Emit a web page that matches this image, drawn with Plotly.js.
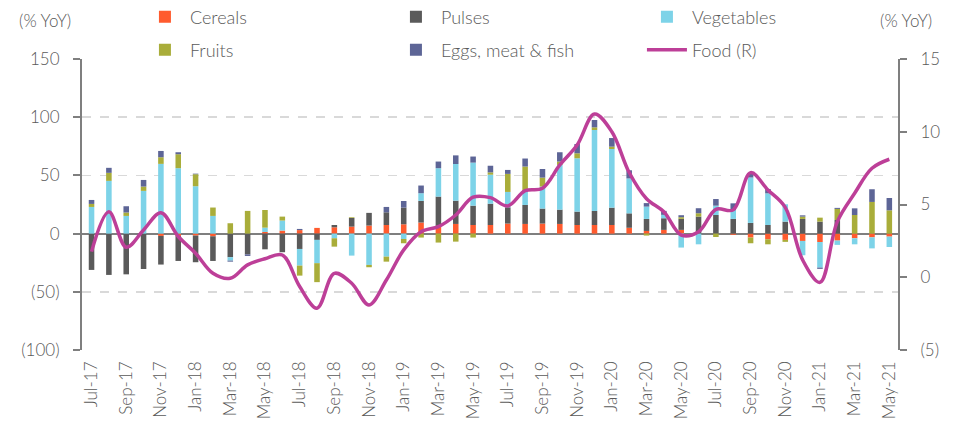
<!DOCTYPE html>
<html>
<head>
<meta charset="utf-8">
<script src="https://cdn.plot.ly/plotly-3.0.1.min.js"></script>
<style>
html,body{margin:0;padding:0;background:#fff;}
#chart{width:960px;height:435px;}
</style>
</head>
<body>
<div id="chart"></div>
<script>
// ---- data ----
var months = ['Jul-17','Aug-17','Sep-17','Oct-17','Nov-17','Dec-17','Jan-18','Feb-18','Mar-18','Apr-18','May-18','Jun-18',
  'Jul-18','Aug-18','Sep-18','Oct-18','Nov-18','Dec-18','Jan-19','Feb-19','Mar-19','Apr-19','May-19','Jun-19',
  'Jul-19','Aug-19','Sep-19','Oct-19','Nov-19','Dec-19','Jan-20','Feb-20','Mar-20','Apr-20','May-20','Jun-20',
  'Jul-20','Aug-20','Sep-20','Oct-20','Nov-20','Dec-20','Jan-21','Feb-21','Mar-21','Apr-21','May-21'];
var tickLabels = ['Jul-17','Sep-17','Nov-17','Jan-18','Mar-18','May-18','Jul-18','Sep-18','Nov-18','Jan-19','Mar-19','May-19',
  'Jul-19','Sep-19','Nov-19','Jan-20','Mar-20','May-20','Jul-20','Sep-20','Nov-20','Jan-21','Mar-21','May-21'];

var cereals = [0,0,0,0,-2,-2,-1.7,-2.3,0,0,1.4,2.6,
  3,4.9,5.4,6,6.9,7.4,8,9.5,6.6,8.3,7.4,7.4,
  8.6,8.3,8.6,8.3,7.4,7.4,7.4,5,2.3,3.2,3.2,0,
  0,-1,-3.4,-4.9,-5.4,-6.3,-7.2,-6,-4,-3.2,-2.6];
var pulses = [-31.2,-35.5,-35,-30.4,-24.6,-21.5,-22.9,-21.2,-20.3,-17.8,-13.5,-16,
  -13.2,-5.4,2,7.4,10.9,10.9,14.3,18.6,25.2,20,16.6,18.3,
  14,16.3,12.9,12.3,11.5,12,14.9,12.4,10.3,10,9.5,14.6,
  16,12.6,9.2,7.4,10.3,12.6,10.3,11.7,0,0,0];
var vegetables = [22.9,45.3,15.2,36.7,59.9,56.2,40.7,15.2,-2.9,0,3.7,8.6,
  -14.3,-20,-4,-18.9,-26.9,-19.8,-4.6,6.6,24.4,31.5,37,24.9,
  13.2,12,18.9,38.4,45.8,69.6,50.4,30,10.6,2.9,-12,-9.2,
  8,7.7,39,27.2,14.9,-12.3,-22,-3.7,-5.2,-9.5,-8.9];
var fruits = [2.6,6.9,2.9,3.7,5.7,12,10.3,7.2,8.9,19.5,15.2,3.4,
  -8.6,-16.3,-7.2,0.6,-2,-4.3,-3.7,-3.4,-7.7,-6.9,-3.4,2,
  15.5,21,7.7,2.9,4.3,2.3,2,0,-1.7,0,1.4,2.9,
  -2.9,0,-4.9,-4.3,-1.7,2,3.4,9.5,16,27.2,20];
var eggsMeatFish = [3.4,4.3,5.4,5.7,5.4,1.7,0.5,0,-0.9,-1.4,0,0,
  1,0,0,0,0,4.6,5.7,6.6,5.7,7.4,5.2,5.7,
  3.4,6.9,7.4,8,8,6.3,7.4,7,3,3.4,1.7,4.3,
  5.7,5.7,3.7,3.7,0,1.1,-1.1,0.9,5.7,10.9,10.6];
var food = [1.76,4.5,2.06,3.25,4.44,2.8,1.65,0.27,-0.07,0.85,1.27,1.53,
  -0.64,-2.13,0.27,-0.41,-1.9,-0.19,1.88,3.13,3.48,4.28,5.5,5.47,
  4.9,5.95,6.12,7.72,9.09,11.22,10.0,7.2,5.4,4.5,2.9,3.13,
  4.67,4.63,7.19,6.0,4.8,1.19,-0.35,3.82,5.77,7.49,8.11];

var leftTicks = [-100,-50,0,50,100,150];
var leftTickText = ['(100)','(50)','0','50','100','150'];
var rightTicks = [-5,0,5,10,15];
var rightTickText = ['(5)','0','5','10','15'];

// ---- chart ----
var FONT = 'Lato, "Open Sans", sans-serif';
var TXT = '#595959';
var AX = '#7f7f7f';
var W = 300;

function barTrace(name, vals, color, lg) {
  return {type:'bar', name:name, x:months, y:vals, marker:{color:color, line:{width:0}},
          xaxis:'x', yaxis:'y', legend:lg, hoverinfo:'x+y+name'};
}
var traces = [
  barTrace('Cereals', cereals, '#FF5B2E', 'legend'),
  barTrace('Pulses', pulses, '#5A5A5A', 'legend'),
  barTrace('Vegetables', vegetables, '#7DD3E8', 'legend'),
  barTrace('Fruits', fruits, '#A9AD3A', 'legend2'),
  barTrace('Eggs, meat & fish', eggsMeatFish, '#5D6596', 'legend2'),
  {type:'scatter', mode:'lines', name:'Food (R)', x:months, y:food, xaxis:'x', yaxis:'y2', legend:'legend2',
   line:{color:'#BD3F98', width:3.5, shape:'spline', smoothing:1}}
];

var boundaryTicks = [];
for (var i = 0; i < months.length; i += 2) boundaryTicks.push(i - 0.5);

var legendBase = {orientation:'h', x:0.071, xanchor:'left', yanchor:'middle',
          entrywidth:196, entrywidthmode:'pixels', font:{size:18, color:TXT, weight:W},
          traceorder:'normal', itemwidth:40, bgcolor:'rgba(0,0,0,0)'};
var legend1 = Object.assign({}, legendBase, {y:1.144});
var legend2 = Object.assign({}, legendBase, {y:1.031});

var layout = {
  width:960, height:435,
  margin:{l:82, r:62, t:59, b:85, autoexpand:false},
  paper_bgcolor:'#fff', plot_bgcolor:'#fff',
  font:{family:FONT, color:TXT, size:15, weight:W},
  barmode:'relative', bargap:0.68,
  showlegend:true,
  legend:legend1,
  legend2:legend2,
  xaxis:{type:'category', categoryorder:'array', categoryarray:months,
         range:[-0.55, 46.5], tickmode:'array', tickvals:tickLabels, ticktext:tickLabels,
         tickangle:-90, ticks:'', showline:false, showgrid:false, zeroline:false,
         tickfont:{size:17, color:TXT, weight:W}, ticklabelstandoff:7},
  xaxis2:{type:'linear', overlaying:'x', anchor:'free', position:0.4, range:[-0.55, 46.5],
          tickmode:'array', tickvals:boundaryTicks, ticks:'outside', ticklen:6, tickwidth:2,
          tickcolor:AX, showticklabels:false, showgrid:false, zeroline:false, showline:false},
  yaxis:{range:[-100,150], tickmode:'array', tickvals:leftTicks, ticktext:leftTickText,
         showline:true, linecolor:AX, linewidth:2, ticks:'outside', ticklen:7, tickwidth:2, tickcolor:AX,
         showgrid:true, gridcolor:'#D9D9D9', griddash:'dash', gridwidth:1.5,
         zeroline:true, zerolinecolor:AX, zerolinewidth:2,
         tickfont:{size:17, color:TXT, weight:W}, ticklabelstandoff:10},
  yaxis2:{range:[-5,15], overlaying:'y', side:'right', anchor:'x', tickmode:'array',
          tickvals:rightTicks, ticktext:rightTickText,
          showline:true, linecolor:AX, linewidth:2, ticks:'outside', ticklen:7, tickwidth:2, tickcolor:AX,
          showgrid:false, zeroline:false, tickfont:{size:17, color:TXT, weight:W}, ticklabelstandoff:10},
  annotations:[
    {text:'(% YoY)', xref:'paper', yref:'paper', x:-0.045, y:1.134, xanchor:'center', yanchor:'middle',
     showarrow:false, font:{size:17, color:TXT, weight:W}},
    {text:'(% YoY)', xref:'paper', yref:'paper', x:1.01, y:1.134, xanchor:'center', yanchor:'middle',
     showarrow:false, font:{size:17, color:TXT, weight:W}}
  ]
};

Plotly.newPlot('chart', traces, layout, {displayModeBar:false, staticPlot:true});
</script>
</body>
</html>
